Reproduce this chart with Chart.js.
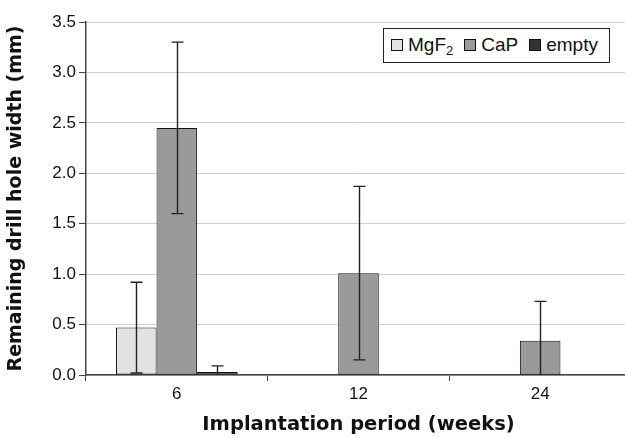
<!DOCTYPE html>
<html>
<head>
<meta charset="utf-8">
<script src="https://cdn.jsdelivr.net/npm/chart.js@4"></script>
<style>
  html, body { margin: 0; padding: 0; background: #fff; overflow: hidden; }
  #wrap { position: relative; width: 625px; height: 438px; overflow: hidden; }
  canvas { position: absolute; left: 0; top: 0; }
  #legend {
    position: absolute; left: 383px; top: 28px; width: 227px; height: 35px;
    border: 1px solid #222; background: #fff; box-sizing: border-box;
    font: 19px "Liberation Sans", Arial, sans-serif; color: #111;
    line-height: 31px; padding-left: 7px; white-space: nowrap;
  }
  #legend .it { display: inline-block; margin-right: 11px; }
  #legend .sw { display: inline-block; width: 10px; height: 10px; border: 1px solid #111; margin-right: 5px; vertical-align: 0px; }
  #legend sub { font-size: 13px; vertical-align: -4px; line-height: 0; }
</style>
</head>
<body>
<div id="wrap">
  <canvas id="chart" width="631" height="438"></canvas>
  <div id="legend"></div>
</div>
<script>
"use strict";

// ── Data ────────────────────────────────────────────────────────────────
const periods = ["6", "12", "24"];
const seriesNames = ["MgF<sub>2</sub>", "CaP", "empty"];
const mgf2 = [0.47, 0, 0];
const cap = [2.45, 1.01, 0.34];
const empty = [0.03, 0, 0];
const mgf2Err = [0.45, 0, 0];
const capErr = [0.85, 0.86, 0.39];
const emptyErr = [0.06, 0, 0];
const yTicks = [0, 0.5, 1, 1.5, 2, 2.5, 3, 3.5];

const COLORS = ["#e2e2e2", "#9a9a9a", "#333333"];
const FONT = "'Liberation Sans', Arial, sans-serif";
const TITLE_FONT = "'DejaVu Sans', sans-serif";

// ── Legend (boxed, top right) ───────────────────────────────────────────
document.getElementById("legend").innerHTML = seriesNames.map((n, i) =>
  `<span class="it"><span class="sw" style="background:${COLORS[i]}"></span>${n}</span>`).join("");

// ── Error bars plugin ───────────────────────────────────────────────────
const errBars = {
  id: "errBars",
  afterDatasetsDraw(chart) {
    const { ctx, scales: { y } } = chart;
    ctx.save();
    ctx.strokeStyle = "#222";
    ctx.lineWidth = 1.4;
    chart.data.datasets.forEach((ds, di) => {
      const meta = chart.getDatasetMeta(di);
      meta.data.forEach((bar, i) => {
        const e = ds.err[i];
        if (!e) return;
        const v = ds.data[i];
        const x = Math.round(bar.x) + 0.5;
        const top = y.getPixelForValue(v + e);
        const bot = y.getPixelForValue(Math.max(v - e, 0));
        ctx.beginPath();
        ctx.moveTo(x, top); ctx.lineTo(x, bot);
        ctx.moveTo(x - 6, top); ctx.lineTo(x + 6, top);
        if (v - e > 0) { ctx.moveTo(x - 6, bot); ctx.lineTo(x + 6, bot); }
        ctx.stroke();
      });
    });
    ctx.restore();
  },
};

const mk = (label, data, err, color) => ({
  label, data, err,
  backgroundColor: color,
  borderColor: "#111",
  borderWidth: 1,
  borderSkipped: false,
});

new Chart(document.getElementById("chart"), {
  type: "bar",
  data: {
    labels: periods,
    datasets: [
      mk("MgF2", mgf2, mgf2Err, COLORS[0]),
      mk("CaP", cap, capErr, COLORS[1]),
      mk("empty", empty, emptyErr, COLORS[2]),
    ],
  },
  options: {
    responsive: false,
    animation: false,
    layout: { padding: { top: 22, right: 0, left: 0, bottom: 0 } },
    datasets: { bar: { categoryPercentage: 0.67, barPercentage: 1 } },
    plugins: { legend: { display: false }, tooltip: { enabled: false } },
    scales: {
      x: {
        grid: { offset: true, drawOnChartArea: false, drawTicks: true, tickLength: 6, tickColor: "#444" },
        border: { color: "#444", width: 1.5 },
        ticks: { color: "#111", font: { family: FONT, size: 17 }, padding: 3 },
        title: { display: true, text: "Implantation period (weeks)", color: "#111",
                 font: { family: TITLE_FONT, size: 19.5, weight: "bold" }, padding: { top: 0, bottom: 1 } },
        afterFit: (s) => { s.height = 63; },
      },
      y: {
        min: 0, max: 3.5,
        afterBuildTicks: (s) => { s.ticks = yTicks.map((v) => ({ value: v })); },
        grid: { color: "#cfcfcf", tickLength: 7, tickColor: "#444" },
        border: { color: "#444", width: 1.5 },
        ticks: { color: "#111", font: { family: FONT, size: 17 }, padding: 3,
                 callback: (v) => Number(v).toFixed(1) },
        title: { display: true, text: "Remaining drill hole width (mm)", color: "#111",
                 font: { family: TITLE_FONT, size: 19, weight: "bold" }, padding: { top: 5, bottom: 0 } },
        afterFit: (s) => { s.width = 86; },
      },
    },
  },
  plugins: [errBars],
});
</script>
</body>
</html>
